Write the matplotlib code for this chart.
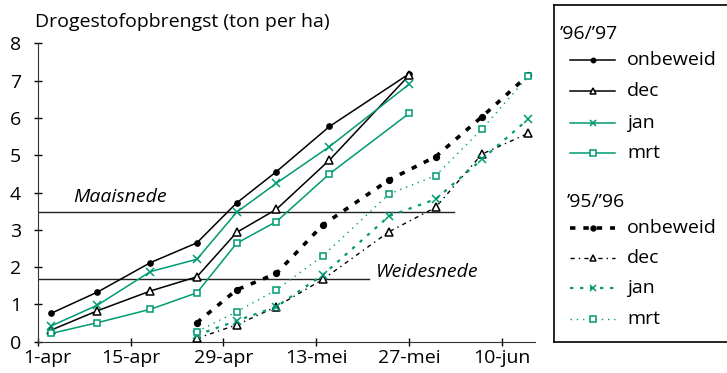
import matplotlib.pyplot as plt
import matplotlib.transforms as mtransforms
from matplotlib.lines import Line2D

plt.rcParams['font.family'] = ['Open Sans', 'DejaVu Sans']

GREEN = '#009a73'

# days after 1 april
days_9697 = [2, 9, 17, 24, 30, 36, 44, 56]
days_9596 = [24, 30, 36, 43, 53, 60, 67, 74]

onbeweid_9697 = [0.76, 1.33, 2.12, 2.65, 3.72, 4.56, 5.77, 7.18]
dec_9697 = [0.31, 0.83, 1.36, 1.74, 2.93, 3.55, 4.87, 7.14]
jan_9697 = [0.42, 0.98, 1.88, 2.21, 3.47, 4.25, 5.23, 6.90]
mrt_9697 = [0.22, 0.51, 0.87, 1.31, 2.64, 3.22, 4.50, 6.12]

onbeweid_9596 = [0.51, 1.39, 1.83, 3.13, 4.34, 4.96, 6.03, 7.15]
dec_9596 = [0.09, 0.45, 0.94, 1.67, 2.95, 3.60, 5.03, 5.59]
jan_9596 = [0.18, 0.56, 0.94, 1.79, 3.37, 3.82, 4.89, 5.97]
mrt_9596 = [0.27, 0.80, 1.39, 2.30, 3.96, 4.45, 5.70, 7.12]

tick_days = [0, 14, 28, 42, 56, 70]
tick_labels = ['1-apr', '15-apr', '29-apr', '13-mei', '27-mei', '10-jun']

maaisnede = 3.48
weidesnede = 1.67

styles_9697 = [
    dict(color='black', lw=1.1, ls='-', marker='o', ms=3.8, mfc='black', mec='black'),
    dict(color='black', lw=1.1, ls='-', marker='^', ms=5.5, mfc='white', mec='black', mew=1.1),
    dict(color=GREEN, lw=1.1, ls='-', marker='x', ms=5.5, mec=GREEN, mew=1.1),
    dict(color=GREEN, lw=1.1, ls='-', marker='s', ms=5, mfc='white', mec=GREEN, mew=1.1),
]
styles_9596 = [
    dict(color='black', lw=2.6, ls=(0, (1.5, 2.2)), marker='o', ms=4.2, mfc='black', mec='black'),
    dict(color='black', lw=1.0, ls=(0, (3, 3, 1, 3)), marker='^', ms=5.5, mfc='white', mec='black', mew=1.1),
    dict(color=GREEN, lw=1.6, ls=(0, (1.5, 3)), marker='x', ms=5.5, mec=GREEN, mew=1.1),
    dict(color=GREEN, lw=1.0, ls=(0, (1, 3.5)), marker='s', ms=5, mfc='white', mec=GREEN, mew=1.1),
]
names = ['onbeweid', 'dec', 'jan', 'mrt']

FS = 14

fig = plt.figure(figsize=(7.27, 3.73), dpi=100)
ax = fig.add_axes([0.0519, 0.0839, 0.684, 0.8], facecolor='none')

# reference lines
ax.plot([0, 62.8], [maaisnede, maaisnede], color='#222222', lw=1.0, zorder=1)
ax.plot([0, 50], [weidesnede, weidesnede], color='#222222', lw=1.0, zorder=1)
ax.text(5.4, 3.75, 'Maaisnede', fontsize=FS, style='italic', va='baseline')
ax.text(51, 1.88, 'Weidesnede', fontsize=FS, style='italic', va='center')

for vals, st in zip([onbeweid_9596, dec_9596, jan_9596, mrt_9596], styles_9596):
    ax.plot(days_9596, vals, zorder=3, **st)
for vals, st in zip([onbeweid_9697, dec_9697, jan_9697, mrt_9697], styles_9697):
    ax.plot(days_9697, vals, zorder=4, **st)

ax.set_xlim(0, 75)
ax.set_ylim(0, 8)
ax.set_xticks(tick_days)
ax.set_xticklabels(tick_labels)
ax.set_yticks(range(9))
ax.tick_params(direction='inout', length=6, width=1, labelsize=FS)
ax.tick_params(axis='x', pad=2)
ax.tick_params(axis='y', pad=9)
ax.spines['top'].set_visible(False)
ax.spines['right'].set_visible(False)
for s in ['left', 'bottom']:
    ax.spines[s].set_color('#333333')

# first date label sits a bit right of its tick
first = ax.get_xticklabels()[0]
first.set_transform(first.get_transform() + mtransforms.ScaledTranslation(10 / 100, 0, fig.dpi_scale_trans))

fig.text(35 / 727, 1 - 22 / 373, 'Drogestofopbrengst (ton per ha)', fontsize=FS, va='center')

# legend box, drawn in pixel-like coords relative to box
lax = fig.add_axes([554.3 / 727, 31.3 / 373, 1 - 554.3 / 727, 336.7 / 373], facecolor='none')
lax.set_xlim(0, 172.7)
lax.set_ylim(336.7, 0)
lax.set_xticks([])
lax.set_yticks([])
lax.spines['right'].set_visible(False)
for s in ['left', 'top', 'bottom']:
    lax.spines[s].set_linewidth(1.2)

lax.text(5.7, 29.3, "\u201996/\u201997", fontsize=FS, va='center')
lax.text(12.4, 196.7, "\u201995/\u201996", fontsize=FS, va='center')
rows_9697 = [55, 85.7, 117.7, 148.3]
rows_9596 = [223.3, 253.3, 283.3, 314.3]
for rows, styles in [(rows_9697, styles_9697), (rows_9596, styles_9596)]:
    for y, st, name in zip(rows, styles, names):
        line_st = {k: v for k, v in st.items() if k in ('color', 'lw', 'ls')}
        mark_st = {k: v for k, v in st.items() if k not in ('lw', 'ls')}
        mark_st['ms'] = mark_st['ms'] * 0.85
        lax.add_line(Line2D([15.7, 60.7], [y, y], **line_st))
        lax.add_line(Line2D([38.2], [y], ls='none', **mark_st))
        lax.text(73, y, name, fontsize=FS, va='center')

fig.savefig('out.png', dpi=100)
